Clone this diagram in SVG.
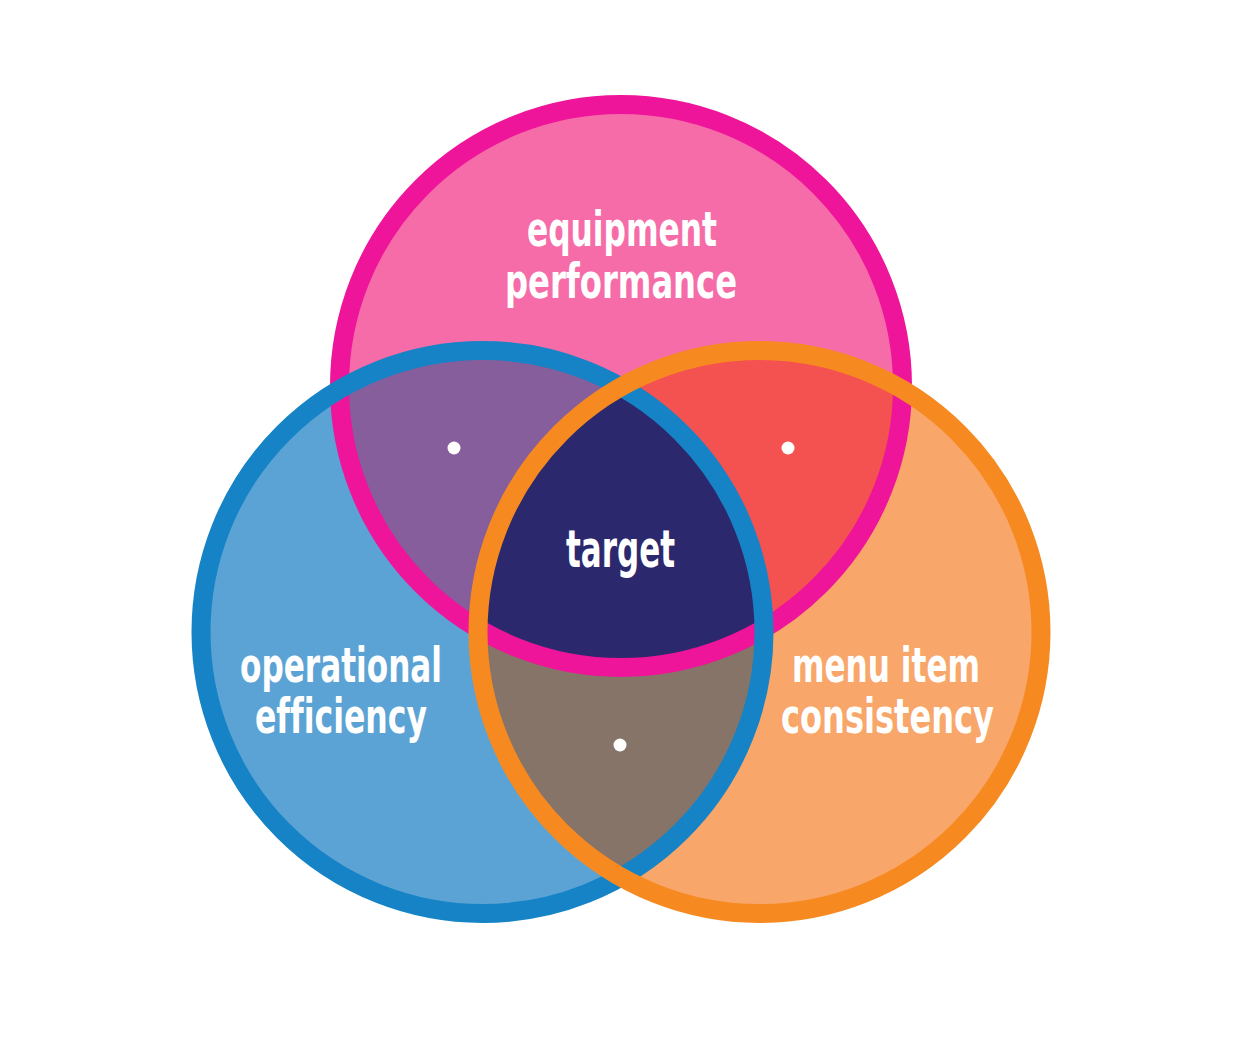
<svg xmlns="http://www.w3.org/2000/svg" width="1242" height="1047" viewBox="0 0 1242 1047">
<style>
.ring{fill:none;stroke-width:19}
.lbl{fill:#ffffff;font-family:"Liberation Sans Narrow","DejaVu Sans Condensed","DejaVu Sans",sans-serif;font-weight:bold;font-size:48px;font-stretch:condensed;font-variant-ligatures:none}
.dot{fill:#ffffff}
</style>
<defs>
<clipPath id="cpPink"><circle cx="621" cy="386" r="281.5"/></clipPath>
<clipPath id="cpBlue"><circle cx="482.5" cy="632" r="281.5"/></clipPath>
<clipPath id="cpOrange"><circle cx="759.5" cy="632" r="281.5"/></clipPath>
</defs>
<rect width="1242" height="1047" fill="#ffffff"/>
<g id="fill-equipment"><circle cx="621" cy="386" r="281.5" fill="#F66CA8"/></g>
<g id="fill-operational"><circle cx="482.5" cy="632" r="281.5" fill="#5BA3D4"/></g>
<g id="fill-menu"><circle cx="759.5" cy="632" r="281.5" fill="#F8A669"/></g>
<g id="overlap-equipment-operational" clip-path="url(#cpPink)"><circle cx="482.5" cy="632" r="281.5" fill="#865E9C"/></g>
<g id="overlap-equipment-menu" clip-path="url(#cpPink)"><circle cx="759.5" cy="632" r="281.5" fill="#F45251"/></g>
<g id="overlap-operational-menu" clip-path="url(#cpBlue)"><circle cx="759.5" cy="632" r="281.5" fill="#867468"/></g>
<g id="overlap-target" clip-path="url(#cpPink)"><g clip-path="url(#cpBlue)"><circle cx="759.5" cy="632" r="281.5" fill="#2C286E"/></g></g>
<g id="rings">
<circle class="ring" cx="621" cy="386" r="281.5" stroke="#EE159A"/>
<circle class="ring" cx="482.5" cy="632" r="281.5" stroke="#1583C5"/>
<circle class="ring" cx="759.5" cy="632" r="281.5" stroke="#F68A20"/>
</g>
<g id="dots">
<circle class="dot" cx="454" cy="448" r="6.5"/>
<circle class="dot" cx="788" cy="448" r="6.5"/>
<circle class="dot" cx="620" cy="745" r="6.5"/>
</g>
<g id="label-equipment">
<text class="lbl" x="527" y="246" textLength="190" lengthAdjust="spacingAndGlyphs">equipment</text>
<text class="lbl" x="505" y="298" textLength="232" lengthAdjust="spacingAndGlyphs">performance</text>
</g>
<g id="label-target">
<text class="lbl" x="566" y="567" textLength="109" lengthAdjust="spacingAndGlyphs" style="font-size:52px">target</text>
</g>
<g id="label-operational">
<text class="lbl" x="240" y="682" textLength="202" lengthAdjust="spacingAndGlyphs">operational</text>
<text class="lbl" x="255" y="733" textLength="172" lengthAdjust="spacingAndGlyphs">efficiency</text>
</g>
<g id="label-menu">
<text class="lbl" x="792" y="682" textLength="188" lengthAdjust="spacingAndGlyphs">menu item</text>
<text class="lbl" x="781" y="733" textLength="213" lengthAdjust="spacingAndGlyphs">consistency</text>
</g>
</svg>
